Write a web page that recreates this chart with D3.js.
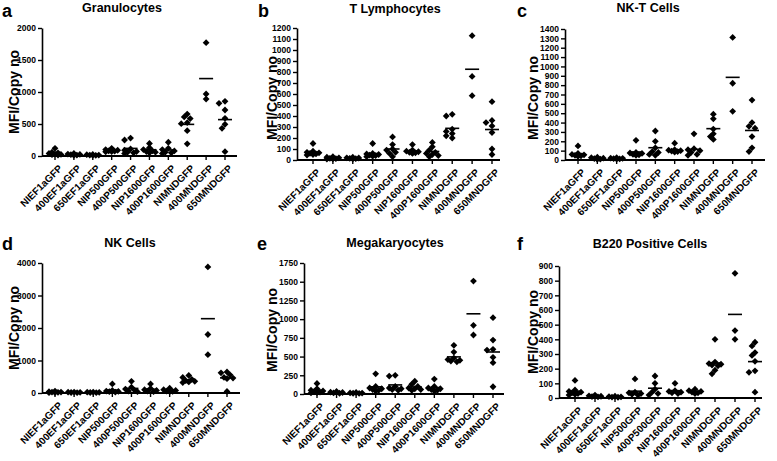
<!DOCTYPE html>
<html><head><meta charset="utf-8">
<script src="https://cdn.jsdelivr.net/npm/d3@7"></script>
<style>body{margin:0;background:#fff}svg{display:block;font-family:Arial,"Liberation Sans",sans-serif}</style>
</head><body><svg id="c" width="777" height="461"></svg>
<script>
const categories = ["NIEF1aGFP","400EF1aGFP","650EF1aGFP","NIP500GFP","400P500GFP","NIP1600GFP","400P1600GFP","NIMNDGFP","400MNDGFP","650MNDGFP"];

const granulocytes = [
  [120,60,50,40,30,25,20,15],[40,30,25,20,15,10],[25,20,15,15,10,10],
  [120,100,90,80,75,70,65],[280,250,110,90,70,60,50,40],[195,130,100,80,70,60,50],
  [215,120,100,80,60,50,40],[655,610,585,520,505,395,190],[1770,969,890],
  [854,823,719,589,495,433,68]];
const tLymphocytes = [
  [150,80,70,65,60,55,50,45],[30,25,20,15,12,10,8],[25,20,18,15,12,10],
  [150,60,55,50,45,40,35,30],[210,140,100,90,70,60,30],[140,90,80,75,70,65,60],
  [160,120,90,70,60,50,40,30],[415,400,280,260,240,220,200],[1130,760,585],
  [530,360,340,310,250,100,50]];
const nktCells = [
  [150,70,60,55,50,45,40],[30,25,20,15,10,8],[25,20,18,15,12,10],
  [210,80,75,70,60,55,50],[310,200,130,90,80,60,50],[180,110,105,100,95,90,85],
  [280,120,110,100,80,60,50],[490,440,330,280,250,220],[1310,820,520],
  [640,400,360,340,250,130,90]];
const nkCells = [
  [60,40,30,25,20,15,10],[30,25,20,15,10],[30,25,20,15,10],
  [280,80,60,50,40,30],[360,180,120,90,60,40],[280,140,100,80,60,40],
  [150,100,80,60,50,40],[540,480,420,380,360,340,320],[3880,1800,1180],
  [650,620,560,480,460,440,50]];
const megakaryocytes = [
  [140,70,50,40,30,25,20,15],[35,25,20,15,10],[20,15,12,10,8],
  [270,100,80,70,60,50,40],[250,240,100,80,70,60,50],[170,130,100,80,70,60,50],
  [200,100,80,70,60,50,40],[650,560,480,460,450,440,430],[1509,917,788],
  [1019,721,597,587,490,418,97]];
const b220Cells = [
  [120,55,45,40,35,30,25,20],[20,15,12,10,8],[12,10,8,6,5],
  [130,40,35,30,25,20],[150,100,60,40,30,20],[100,50,45,40,35,30],
  [60,50,45,40,35,30],[400,245,235,230,225,220,190,165],[850,460,400],
  [380,355,310,290,250,185,175,40]];

const ticksA = [0,500,1000,1500,2000];
const ticksB = d3.range(0,1201,100);
const ticksC = d3.range(0,1401,100);
const ticksD = [0,1000,2000,3000,4000];
const ticksE = [0,250,500,750,1000,1250,1500,1750];
const ticksF = d3.range(0,901,100);

const panels = [
  {letter:"a",title:"Granulocytes",data:granulocytes,ticks:ticksA,ax:42,x0:55,x1:225,xEnd:237,yTop:28,y0:156,tx:122,ty:12,lx:2,ly:17,yl:14,ylc:92},
  {letter:"b",title:"T Lymphocytes",data:tLymphocytes,ticks:ticksB,ax:297,x0:313,x1:492,xEnd:500,yTop:28,y0:160,tx:395,ty:13,lx:258,ly:17,yl:272,ylc:98},
  {letter:"c",title:"NK-T Cells",data:nktCells,ticks:ticksC,ax:565,x0:578,x1:752,xEnd:765,yTop:29,y0:160,tx:648,ty:12,lx:517,ly:17,yl:533,ylc:98},
  {letter:"d",title:"NK Cells",data:nkCells,ticks:ticksD,ax:42,x0:55,x1:227,xEnd:240,yTop:263,y0:393,tx:130,ty:247,lx:2,ly:250,yl:14,ylc:328},
  {letter:"e",title:"Megakaryocytes",data:megakaryocytes,ticks:ticksE,ax:304,x0:317,x1:493,xEnd:504,yTop:263,y0:394,tx:395,ty:247,lx:257,ly:250,yl:272,ylc:330},
  {letter:"f",title:"B220 Positive Cells",data:b220Cells,ticks:ticksF,ax:559,x0:575,x1:755,xEnd:762,yTop:266,y0:398,tx:650,ty:248,lx:517,ly:250,yl:533,ylc:332}
];

const svg = d3.select("#c");
const diamond = "M0,-3.4L3.4,0L0,3.4L-3.4,0Z";

panels.forEach(p => {
  const g = svg.append("g");
  const x = d3.scalePoint().domain(categories).range([p.x0, p.x1]);
  const yMax = p.ticks[p.ticks.length-1];
  const y = d3.scaleLinear().domain([0, yMax]).range([p.y0, p.yTop]);

  const yAxis = d3.axisLeft(y).tickValues(p.ticks).tickFormat(d3.format("d")).tickSize(4).tickPadding(2).tickSizeOuter(0);
  const ya = g.append("g").attr("transform",`translate(${p.ax},0)`).call(yAxis);
  ya.select(".domain").attr("stroke","#000").attr("stroke-width",1.6);
  ya.selectAll(".tick line").attr("stroke","#000").attr("stroke-width",1.4);
  ya.selectAll(".tick text").attr("font-size",8.5).attr("font-weight","bold").attr("fill","#000").attr("font-family","Arial, 'Liberation Sans', sans-serif");

  const xa = g.append("g").attr("transform",`translate(0,${p.y0})`);
  xa.append("line").attr("x1",p.ax).attr("x2",p.xEnd).attr("stroke","#000").attr("stroke-width",1.8);
  const xt = xa.selectAll("g.xt").data(categories).join("g").attr("class","xt")
    .attr("transform",d=>`translate(${x(d)},0)`);
  xt.append("line").attr("y2",4).attr("stroke","#000").attr("stroke-width",1.4);
  xt.append("text").text(d=>d).attr("transform","translate(3,8) rotate(-45)")
    .attr("text-anchor","end").attr("dy","0.7em").attr("font-size",10).attr("font-weight","bold").attr("fill","#000");

  p.data.forEach((vals,i) => {
    const cx = x(categories[i]);
    const placed = [];
    const sorted = vals.slice().sort((a,b)=>b-a);
    const pts = sorted.map(v => {
      const py = y(v);
      const offs = [0,-3,3,-6,6];
      let best = 0, bestD = -1;
      for (const o of offs) {
        const dmin = placed.length ? d3.min(placed, q => Math.hypot(q.x-o, q.y-py)) : 99;
        if (dmin >= 4) { best = o; bestD = dmin; break; }
        if (dmin > bestD) { bestD = dmin; best = o; }
      }
      placed.push({x:best,y:py});
      return {x:cx+best,y:py};
    });
    g.selectAll(null).data(pts).join("path").attr("d",diamond)
      .attr("transform",d=>`translate(${d.x},${d.y})`).attr("fill","#000");
    const m = d3.mean(vals);
    g.append("line").attr("x1",cx-7).attr("x2",cx+7).attr("y1",y(m)).attr("y2",y(m))
      .attr("stroke","#000").attr("stroke-width",1.6);
  });

  g.append("text").text(p.title).attr("x",p.tx).attr("y",p.ty).attr("text-anchor","middle")
    .attr("font-size",12.5).attr("font-weight","bold").attr("fill","#000");
  g.append("text").text(p.letter).attr("x",p.lx).attr("y",p.ly)
    .attr("font-size",18).attr("font-weight","bold").attr("fill","#000");
  g.append("text").text("MFI/Copy no").attr("transform",`translate(${p.yl+5},${p.ylc}) rotate(-90)`)
    .attr("text-anchor","middle").attr("font-size",14).attr("font-weight","bold").attr("fill","#000");
});
</script></body></html>
